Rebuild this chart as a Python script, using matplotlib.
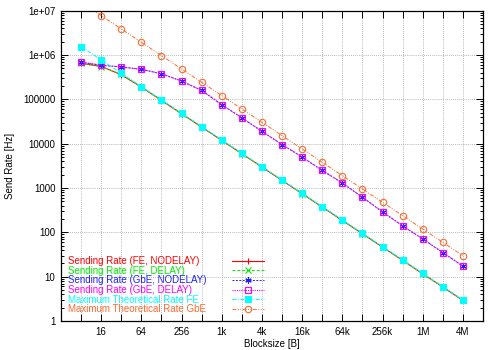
import matplotlib
matplotlib.use("Agg")
import matplotlib.pyplot as plt
from matplotlib.ticker import FixedLocator, NullFormatter, LogLocator

blocksizes = [8, 16, 32, 64, 128, 256, 512, 1024, 2048, 4096, 8192, 16384, 32768,
              65536, 131072, 262144, 524288, 1048576, 2097152, 4194304]

fe_nodelay = [6.5e5, 5.6e5, 3.6e5, 1.9e5, 9.5e4, 4.75e4, 2.38e4, 1.19e4, 5.95e3, 2.98e3,
              1.49e3, 745, 372, 186, 93, 46.5, 23.3, 11.6, 5.82, 2.91]
fe_delay = [6.6e5, 5.5e5, 3.7e5, 1.92e5, 9.6e4, 4.8e4, 2.4e4, 1.2e4, 6.0e3, 3.0e3,
            1.5e3, 750, 375, 188, 94, 47, 23.5, 11.7, 5.88, 2.94]
gbe_nodelay = [6.9e5, 5.9e5, 5.4e5, 4.8e5, 3.8e5, 2.6e5, 1.6e5, 7.6e4, 3.85e4, 1.9e4,
               9.6e3, 5.0e3, 2.5e3, 1.3e3, 620, 290, 140, 71, 35, 17.3]
gbe_delay = [7.0e5, 6.0e5, 5.4e5, 4.8e5, 3.8e5, 2.6e5, 1.6e5, 7.6e4, 3.85e4, 1.9e4,
             9.6e3, 5.0e3, 2.5e3, 1.3e3, 620, 290, 140, 71, 35, 17.3]
max_fe = [1562500, 781250, 390625, 195312, 97656, 48828, 24414, 12207, 6104, 3052,
          1526, 763, 381, 191, 95.4, 47.7, 23.8, 11.9, 5.96, 2.98]
max_gbe = [15625000, 7812500, 3906250, 1953125, 976562, 488281, 244141, 122070, 61035,
           30518, 15259, 7629, 3815, 1907, 954, 477, 238, 119, 59.6, 29.8]

series_labels = ["Sending Rate (FE, NODELAY)", "Sending Rate (FE, DELAY)",
                 "Sending Rate (GbE, NODELAY)", "Sending Rate (GbE, DELAY)",
                 "Maximum Theoretical Rate FE", "Maximum Theoretical Rate GbE"]

x_tick_values = [16, 64, 256, 1024, 4096, 16384, 65536, 262144, 1048576, 4194304]
x_tick_labels = ["16", "64", "256", "1k", "4k", "16k", "64k", "256k", "1M", "4M"]
y_tick_values = [1, 10, 100, 1000, 10000, 100000, 1e6, 1e7]
y_tick_labels = ["1", "10", "100", "1000", "10000", "100000", "1e+06", "1e+07"]

plt.rcParams['font.family'] = ['Liberation Sans', 'DejaVu Sans']

fig = plt.figure(figsize=(5, 3.5), dpi=100)
ax = fig.add_axes([0.122, 0.083, 0.844, 0.886])

colors = ["#ff0000", "#00ee00", "#2020ff", "#ff00ff", "#00ffff", "#ff6a30"]
styles = [
    dict(linestyle='-', marker='+', mfc='none', lw=0.8),
    dict(linestyle=(0, (3, 2)), marker='x', mfc='none', lw=0.7),
    dict(linestyle=(0, (2, 1.5)), marker=(6, 2, 0), mfc='none', lw=0.7),
    dict(linestyle=(0, (1, 1)), marker='s', mfc='none', lw=0.8),
    dict(linestyle=(0, (4, 1.5, 1, 1.5)), marker='s', lw=0.7),
    dict(linestyle=(0, (4, 1.5, 1, 1.5, 1, 1.5)), marker='o', mfc='none', lw=0.7),
]
data = [fe_nodelay, fe_delay, gbe_nodelay, gbe_delay, max_fe, max_gbe]

handles = []
for d, c, st, lab in zip(data, colors, styles, series_labels):
    h, = ax.plot(blocksizes, d, color=c, markersize=4.6, markeredgewidth=0.8,
                 label=lab, **st)
    handles.append(h)

ax.set_xscale('log', base=2)
ax.set_yscale('log')
ax.set_xlim(4, 8388608)
ax.set_ylim(1, 1e7)

ax.set_xticks(x_tick_values)
ax.set_xticklabels(x_tick_labels)
ax.xaxis.set_minor_locator(FixedLocator(blocksizes))
ax.xaxis.set_minor_formatter(NullFormatter())
ax.set_yticks(y_tick_values)
ax.set_yticklabels(y_tick_labels)
ax.yaxis.set_minor_locator(LogLocator(base=10, subs=range(2, 10)))
ax.yaxis.set_minor_formatter(NullFormatter())

ax.tick_params(which='both', direction='in', top=True, right=True, labelsize=7,
               width=0.7, color='black')
ax.tick_params(which='major', length=5, pad=4)
ax.tick_params(axis='x', which='minor', length=5)
ax.tick_params(axis='y', which='minor', length=2.5)

ax.grid(True, which='major', axis='y', color='#a0a0a0', linestyle=(0, (1, 1.5)), lw=0.6)
ax.grid(True, which='both', axis='x', color='#a0a0a0', linestyle=(0, (1, 1.5)), lw=0.6)
for s in ax.spines.values():
    s.set_linewidth(0.9)

ax.set_xlabel("Blocksize [B]", fontsize=7, labelpad=2)
ax.set_ylabel("Send Rate [Hz]", fontsize=7, labelpad=6)

fontsize = 7
base_sep = 2.6
leg = ax.legend(handles=handles, loc='lower left', bbox_to_anchor=(0.0, 0.0),
                frameon=False, markerfirst=False, fontsize=fontsize, handlelength=3.3,
                handletextpad=base_sep, labelspacing=-0.04, borderaxespad=0.3)
for t, c in zip(leg.get_texts(), colors):
    t.set_color(c)

# left-align label texts (gnuplot style key): pad each row's separation
fig.canvas.draw()
renderer = fig.canvas.get_renderer()
px_per_pt = renderer.points_to_pixels(1.0)
widths = [t.get_window_extent(renderer).width for t in leg.get_texts()]
maxw = max(widths)
column = leg._legend_handle_box.get_children()[0]
for row, w in zip(column.get_children(), widths):
    row.sep = base_sep * fontsize + (maxw - w) / px_per_pt

fig.savefig("out.png", dpi=100)
